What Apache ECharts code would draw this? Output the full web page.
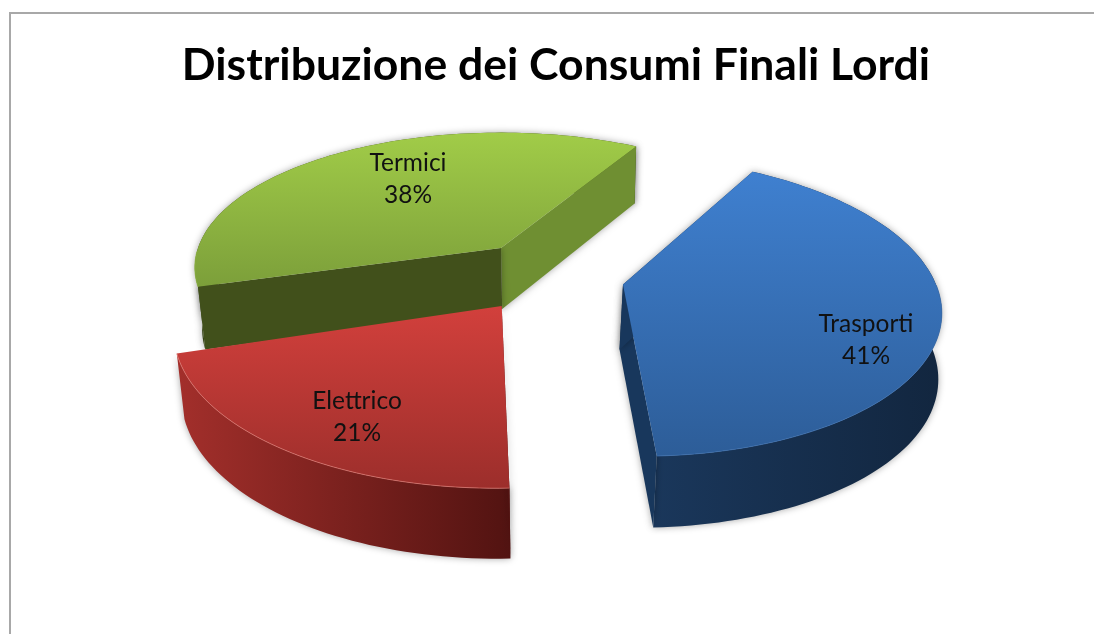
<!DOCTYPE html>
<html><head><meta charset="utf-8">
<style>html,body{margin:0;padding:0;background:#fff}#c{width:1094px;height:634px;filter:blur(0.7px)}</style>
<script src="https://cdn.jsdelivr.net/npm/echarts@6/dist/echarts.min.js"></script>
</head><body><div id="c"></div>
<script>
const categories = ['Trasporti', 'Elettrico', 'Termici'];
const shares = [41, 21, 38];
const chartTitle = 'Distribuzione dei Consumi Finali Lordi';

// 3D look: apex of each exploded slice, radii, perspective, skew and wall depth
const startAngle = -59.6, persp = 0.144, vanishX = 560, converge = 0.98;
const look = [
  {cx:623,cy:284.5,R:313,Ry:147,skew:0.10,depth:65,z:20,label:[866,340],wallShift:-3.5,
   top:['#3f80d0','#2d5d98'],wall:['#1a375b','#12263f'],cutEnd:'#18375c',cutStart:'#18375c',rim:'#3a6fb0'},
  {cx:501.7,cy:306,R:324,Ry:156,skew:-0.03,depth:64,z:30,label:[357,417],
   top:['#d2403c','#9c2e2b'],wall:['#a32f2b','#521311'],cutStart:'#521311',rim:'#e07a74'},
  {cx:501,cy:248,R:303,Ry:132,skew:0,depth:61,z:10,label:[408,179],
   top:['#a1cc48','#7c9f3a'],wall:['#41511b','#41511b'],cutStart:'#41501b',cutEnd:'#6f8f32',rim:'#8fb640'}
];

const total = shares.reduce((a,b)=>a+b,0);
const grad = (c,horizontal)=>new echarts.graphic.LinearGradient(0,0,horizontal?1:0,horizontal?0:1,[{offset:0,color:c[0]},{offset:1,color:c[1]}]);

function renderItem(params, api){
  const i = params.dataIndex, L = look[i];
  let before = 0; for(let j=0;j<i;j++) before += shares[j];
  const a1 = startAngle + before/total*360;
  const a2 = a1 + api.value(0)/total*360;
  const top = (deg)=>{
    const a = deg*Math.PI/180, s = 1/(1-persp*Math.sin(a));
    const dy = L.Ry*Math.sin(a)*s;
    return {x:L.cx+L.R*Math.cos(a)*s+L.skew*dy, y:L.cy+dy, s};
  };
  const down = (p,s)=>[L.wallShift ? p[0]+L.wallShift : vanishX+(p[0]-vanishX)*converge, p[1]+L.depth*(1+0.6*(s-1))];
  const rim = [], rimLow = [];
  for(let d=a1;d<=a2+1e-6;d+=1.5){const p=top(d);rim.push([p.x,p.y]);rimLow.push(down([p.x,p.y],p.s));}
  const apex=[L.cx,L.cy], apexLow=down(apex,1);
  const shadow={shadowBlur:7,shadowColor:'rgba(0,0,0,0.35)'};
  const children=[];
  const poly=(points,style,z2)=>children.push({type:'polygon',z2:L.z+z2,shape:{points},style});
  // outer wall
  poly(rim.concat(rimLow.slice().reverse()),Object.assign({fill:grad(L.wall,true)},shadow),0);
  // cut faces (only those the viewer can see)
  const first=rim[0], last=rim[rim.length-1];
  if(L.cutEnd) poly([apex,last,rimLow[rimLow.length-1],apexLow],Object.assign({fill:L.cutEnd},shadow),1);
  if(L.cutStart) poly([apex,first,rimLow[0],apexLow],Object.assign({fill:L.cutStart},shadow),1);
  // top face
  poly([apex].concat(rim),{fill:grad(L.top,false)},2);
  children.push({type:'polyline',z2:L.z+3,shape:{points:rim.filter((p,k)=>top(a1+k*1.5).s>1.0)},style:{fill:null,stroke:L.rim,lineWidth:1,opacity:0.7}});
  const pct=Math.round(api.value(0)/total*100)+'%';
  children.push({type:'text',z2:100,style:{text:categories[i]+'\n'+pct,x:L.label[0],y:L.label[1],
    align:'center',verticalAlign:'middle',font:'24.5px Lato',lineHeight:32,fill:'#111'}});
  return {type:'group',children};
}

const chart = echarts.init(document.getElementById('c'),null,{renderer:'canvas'});
chart.setOption({
  animation:false,
  backgroundColor:'#fff',
  title:{text:chartTitle,left:551,top:38,textAlign:'center',textStyle:{fontFamily:'Lato',fontWeight:'bold',fontSize:44.5,color:'#000'}},
  graphic:[{type:'rect',shape:{x:10,y:13,width:1200,height:800},style:{fill:null,stroke:'#a8a8a8',lineWidth:2},silent:true}],
  series:[{type:'custom',coordinateSystem:'none',renderItem,data:shares.map(v=>[v]),silent:true}]
});
</script></body></html>
